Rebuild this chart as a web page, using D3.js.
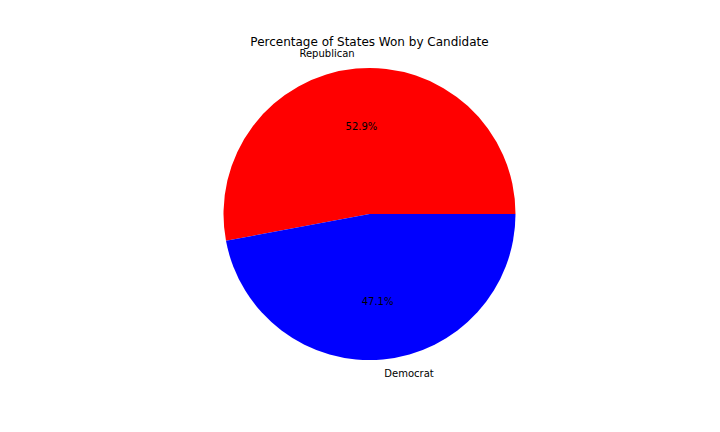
<!DOCTYPE html>
<html>
<head>
<meta charset="utf-8">
<script src="https://cdn.jsdelivr.net/npm/d3@7/dist/d3.min.js"></script>
<style>
  html, body { margin: 0; padding: 0; background: #fff; }
  svg { display: block; font-family: "DejaVu Sans", sans-serif; }
</style>
</head>
<body>
<svg id="chart" width="720" height="432"></svg>
<script>
const categories = ["Republican", "Democrat"];
const values = [27, 24];
const colors = ["#ff0000", "#0000ff"];
const title = "Percentage of States Won by Candidate";

const W = 720, H = 432;
const cx = 369.5, cy = 214, R = 146;

const svg = d3.select("#chart");
svg.append("rect").attr("width", W).attr("height", H).attr("fill", "#fff");

const data = categories.map((c, i) => ({ name: c, value: values[i], color: colors[i] }));
const total = d3.sum(values);

// matplotlib: start at 3 o'clock, counter-clockwise
const pie = d3.pie().sort(null).value(d => d.value)
  .startAngle(Math.PI / 2).endAngle(Math.PI / 2 - 2 * Math.PI);
const arcs = pie(data);

const g = svg.append("g").attr("transform", `translate(${cx},${cy})`);

const arc = d3.arc().innerRadius(0).outerRadius(R);
g.selectAll("path.slice").data(arcs).join("path")
  .attr("class", "slice")
  .attr("d", arc)
  .attr("fill", d => d.data.color);

const labelArc = d3.arc().innerRadius(R * 1.1).outerRadius(R * 1.1);
const pctArc = d3.arc().innerRadius(R * 0.6).outerRadius(R * 0.6);

g.selectAll("text.label").data(arcs).join("text")
  .attr("class", "label")
  .attr("x", d => labelArc.centroid(d)[0])
  .attr("y", d => labelArc.centroid(d)[1])
  .attr("dy", "0.33em")
  .attr("text-anchor", d => labelArc.centroid(d)[0] < 0 ? "end" : "start")
  .attr("font-size", 10)
  .attr("fill", "#000")
  .text(d => d.data.name);

g.selectAll("text.pct").data(arcs).join("text")
  .attr("class", "pct")
  .attr("x", d => pctArc.centroid(d)[0])
  .attr("y", d => pctArc.centroid(d)[1])
  .attr("dy", "0.35em")
  .attr("text-anchor", "middle")
  .attr("font-size", 10)
  .attr("fill", "#000")
  .text(d => (d.data.value / total * 100).toFixed(1) + "%");

svg.append("text")
  .attr("x", cx)
  .attr("y", 46)
  .attr("text-anchor", "middle")
  .attr("font-size", 12)
  .attr("fill", "#000")
  .text(title);
</script>
</body>
</html>
